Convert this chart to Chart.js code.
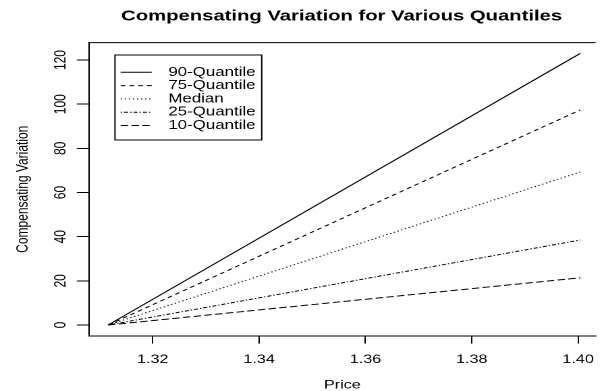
<!DOCTYPE html>
<html>
<head>
<meta charset="utf-8">
<script src="https://cdn.jsdelivr.net/npm/chart.js@4.4.1/dist/chart.umd.min.js"></script>
<style>
  html, body { margin: 0; padding: 0; background: #fff; overflow: hidden; }
  /* the reference is stretched sideways, so draw narrow and widen */
  #wrap { width: 449px; height: 391px; transform: scale(1.3497, 1); transform-origin: 0 0; }
</style>
</head>
<body>
<div id="wrap"><canvas id="chart" width="449" height="391"></canvas></div>
<script>
// data
const prices = [1.3116, 1.4004];
const seriesNames = ['90-Quantile', '75-Quantile', 'Median', '25-Quantile', '10-Quantile'];
const q90 = [0, 123.0];
const q75 = [0, 97.4];
const median = [0, 69.3];
const q25 = [0, 38.5];
const q10 = [0, 21.4];
const xTicks = [1.32, 1.34, 1.36, 1.38, 1.40];
const yTicks = [0, 20, 40, 60, 80, 100, 120];

const seriesValues = [q90, q75, median, q25, q10];
const lineDashes = [[], [3.5, 3], [1, 2], [1, 1.5, 3, 1.5], [5.5, 2.5]];

const FONT = "'Liberation Sans', Arial, Helvetica, sans-serif";
Chart.defaults.font.family = FONT;
Chart.defaults.color = '#000';

const datasets = seriesValues.map((vals, i) => ({
    label: seriesNames[i],
    data: prices.map((p, j) => ({ x: p, y: vals[j] })),
    borderColor: '#000',
    borderWidth: 1,
    borderDash: lineDashes[i],
    pointRadius: 0,
    fill: false,
    tension: 0
}));

// R style bits: title, top frame, rotated y labels, boxed legend
const rStyle = {
    id: 'rStyle',
    afterDraw(chart) {
        const ctx = chart.ctx;
        const area = chart.chartArea;
        const yScale = chart.scales.y;
        ctx.save();
        ctx.fillStyle = '#000';
        ctx.strokeStyle = '#000';
        ctx.lineWidth = 1;

        // top frame line
        ctx.beginPath();
        ctx.moveTo(area.left, area.top);
        ctx.lineTo(area.right, area.top);
        ctx.stroke();

        // title
        ctx.font = 'bold 15px ' + FONT;
        ctx.textAlign = 'center';
        ctx.textBaseline = 'alphabetic';
        ctx.fillText('Compensating Variation for Various Quantiles', (area.left + area.right) / 2 - 0.5, 20.5);

        // y tick labels, parallel to the axis
        ctx.font = '12px ' + FONT;
        ctx.textBaseline = 'middle';
        yScale.ticks.forEach(t => {
            const py = yScale.getPixelForValue(t.value);
            ctx.save();
            ctx.translate(45.2, py);
            ctx.rotate(-Math.PI / 2);
            ctx.fillText(String(t.value), 0, 0);
            ctx.restore();
        });

        // legend
        const lx = 85.2, ly = 55, lw = 108.7, lh = 85;
        ctx.beginPath();
        ctx.rect(lx, ly, lw, lh);
        ctx.stroke();
        ctx.font = '12.5px ' + FONT;
        ctx.textAlign = 'left';
        chart.data.datasets.forEach((ds, i) => {
            const ry = 72.3 + i * 13.3;
            ctx.setLineDash(ds.borderDash);
            ctx.beginPath();
            ctx.moveTo(89.4, ry);
            ctx.lineTo(112.4, ry);
            ctx.stroke();
            ctx.setLineDash([]);
            ctx.fillText(ds.label, 124.7, ry);
        });
        ctx.restore();
    }
};

new Chart(document.getElementById('chart'), {
    type: 'line',
    data: { datasets },
    options: {
        responsive: false,
        animation: false,
        devicePixelRatio: 2,
        layout: { padding: { top: 42.6, right: 0, bottom: 0, left: 0 } },
        plugins: {
            legend: { display: false },
            tooltip: { enabled: false },
            title: { display: false }
        },
        scales: {
            x: {
                type: 'linear',
                min: 1.308,
                max: 1.4033,
                afterBuildTicks: scale => { scale.ticks = xTicks.map(v => ({ value: v })); },
                afterFit: scale => { scale.height = 55.1; },
                ticks: {
                    font: { size: 12 },
                    padding: 9,
                    maxRotation: 0,
                    callback: v => Number(v).toFixed(2)
                },
                grid: { drawOnChartArea: false, tickLength: 7.7, color: '#000' },
                border: { display: true, color: '#000', width: 1 },
                title: { display: true, text: 'Price', font: { size: 12, lineHeight: 1 }, padding: { top: 0, bottom: 0 } }
            },
            y: {
                type: 'linear',
                min: -4.92,
                max: 127.9,
                afterBuildTicks: scale => { scale.ticks = yTicks.map(v => ({ value: v })); },
                afterFit: scale => { scale.width = 65.9; },
                ticks: { display: false },
                grid: { drawOnChartArea: false, tickLength: 9, color: '#000' },
                border: { display: true, color: '#000', width: 1 },
                title: { display: true, text: 'Compensating Variation', font: { size: 12 }, padding: { top: 10, bottom: 0 } }
            }
        }
    },
    plugins: [rStyle]
});
</script>
</body>
</html>
